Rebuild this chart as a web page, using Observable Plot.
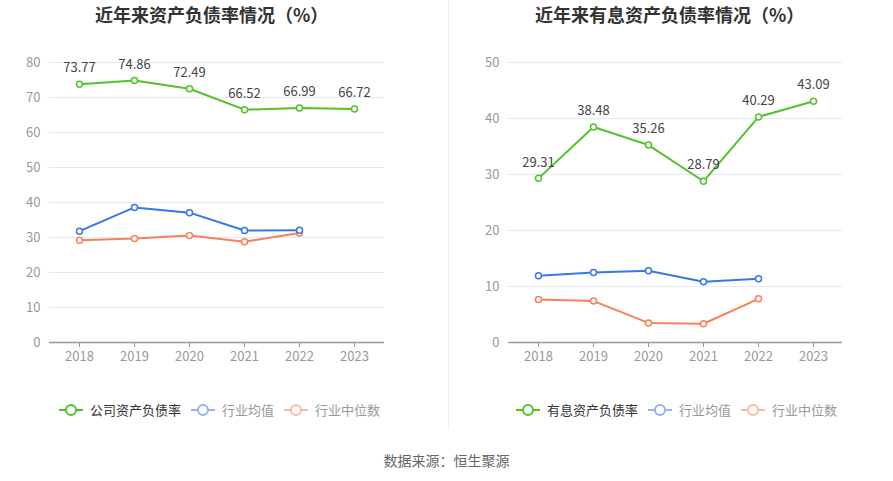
<!DOCTYPE html>
<html><head><meta charset="utf-8">
<script src="https://cdn.jsdelivr.net/npm/d3@7"></script>
<script src="https://cdn.jsdelivr.net/npm/@observablehq/plot@0.6"></script>
<style>
body{margin:0;background:#fff;font-family:"Noto Sans CJK SC","Noto Sans",sans-serif;}
#wrap{position:relative;width:893px;height:481px;overflow:hidden;}
.title{position:absolute;top:1px;font-size:18px;font-weight:bold;color:#333;white-space:nowrap;}
.panel{position:absolute;top:40px;}
.legend{position:absolute;top:400px;font-size:13px;white-space:nowrap;display:flex;align-items:center;}
.legend .item{display:flex;align-items:center;margin-right:9px;}
.legend svg{margin-right:6px;}
#divider{position:absolute;left:448px;top:0;width:1px;height:430px;background:#eeeeee;}
#source{position:absolute;top:450px;left:0;width:893px;text-align:center;font-size:14px;color:#666;}
</style></head>
<body><div id="wrap">
<div id="divider"></div>
<div class="title" style="left:95px">近年来资产负债率情况（%）</div>
<div class="title" style="left:535px">近年来有息资产负债率情况（%）</div>
<div class="panel" id="p1" style="left:0"></div>
<div class="panel" id="p2" style="left:446px"></div>
<div class="legend" id="lg1" style="left:58px"></div>
<div class="legend" id="lg2" style="left:515px"></div>
<div id="source">数据来源：恒生聚源</div>
</div>
<script>
const years = ["2018","2019","2020","2021","2022","2023"];
// left chart
const debtRatio = [73.77, 74.86, 72.49, 66.52, 66.99, 66.72];
const debtIndustryAvg = [31.8, 38.6, 37.1, 32.0, 32.1, null];
const debtIndustryMedian = [29.2, 29.7, 30.6, 28.8, 31.3, null];
const leftTicks = [0,10,20,30,40,50,60,70,80];
// right chart
const interestDebtRatio = [29.31, 38.48, 35.26, 28.79, 40.29, 43.09];
const interestIndustryAvg = [11.9, 12.5, 12.8, 10.85, 11.4, null];
const interestIndustryMedian = [7.7, 7.4, 3.5, 3.35, 7.8, null];
const rightTicks = [0,10,20,30,40,50];

const leftNames = ["公司资产负债率","行业均值","行业中位数"];
const rightNames = ["有息资产负债率","行业均值","行业中位数"];

const GREEN = "#52c22b", BLUE = "#3a77e6", ORANGE = "#fa8059";
const colors = [GREEN, BLUE, ORANGE];
const legendColors = [GREEN, "#93b4f2", "#fdb9a2"];
const legendText = ["#333", "#999", "#999"];

function rows(vals){ return years.map((y,i)=>({year:y, v:vals[i]})).filter(d=>d.v!=null); }

function chart(series, ticks, maxY, ml, mr){
  const marks = [
    Plot.gridY(ticks, {stroke:"#e6eaf3", strokeOpacity:1}),
    Plot.axisY(ticks, {tickSize:0, tickPadding:9, fill:"#999", fontSize:13, tickFormat:d=>d}),
    Plot.ruleY([0], {stroke:"#999", strokeWidth:1.5}),
    Plot.axisX({tickSize:5, stroke:"#999", fill:"#999", fontSize:13, tickPadding:4})
  ];
  [2,1,0].forEach(k=>{
    const d = rows(series[k]);
    marks.push(Plot.line(d, {x:"year", y:"v", stroke:colors[k], strokeWidth:2}));
    marks.push(Plot.dot(d, {x:"year", y:"v", r:3, fill:"#fff", stroke:colors[k], strokeWidth:1.5}));
  });
  marks.push(Plot.text(rows(series[0]), {x:"year", y:"v", text:d=>d.v.toFixed(2), dy:-16, fill:"#444", fontSize:13}));
  return Plot.plot({
    width:446, height:330,
    marginTop:22, marginBottom:28, marginLeft:ml, marginRight:mr,
    style:{fontFamily:'"Noto Sans CJK SC","Noto Sans",sans-serif', background:"transparent", overflow:"visible"},
    x:{type:"point", domain:years, padding:0.5, label:null},
    y:{domain:[0,maxY], label:null},
    marks
  });
}

document.getElementById("p1").appendChild(chart([debtRatio, debtIndustryAvg, debtIndustryMedian], leftTicks, 80, 49, 62));
document.getElementById("p2").appendChild(chart([interestDebtRatio, interestIndustryAvg, interestIndustryMedian], rightTicks, 50, 62, 50));

function legend(id, names){
  const el = document.getElementById(id);
  names.forEach((n,i)=>{
    const it = document.createElement("div"); it.className="item";
    it.innerHTML = `<svg width="26" height="14"><line x1="1" x2="25" y1="7" y2="7" stroke="${legendColors[i]}" stroke-width="2"/><circle cx="13" cy="7" r="5" fill="#fff" stroke="${legendColors[i]}" stroke-width="2"/></svg><span style="color:${legendText[i]}">${n}</span>`;
    el.appendChild(it);
  });
}
legend("lg1", leftNames);
legend("lg2", rightNames);
</script>
</body></html>
